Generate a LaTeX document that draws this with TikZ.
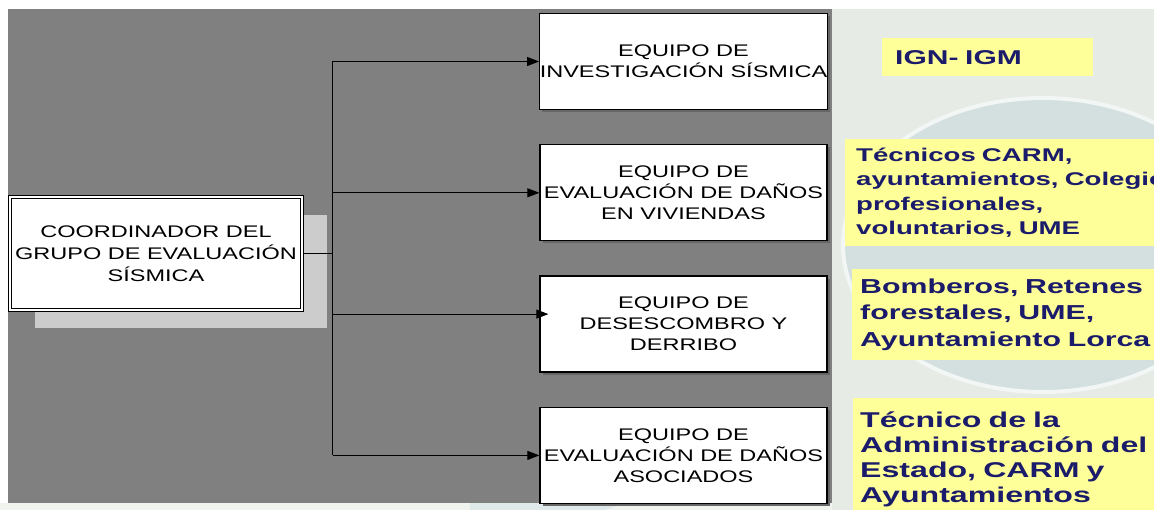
\documentclass[tikz,border=0pt]{standalone}
\usepackage{fontspec}
\setmainfont{Liberation Sans}
\newfontfamily\boxfont{Liberation Sans}[FakeStretch=1.4]
\newfontfamily\entefont{Liberation Sans}[FakeStretch=1.5]
\usepackage{tikz}
\usetikzlibrary{positioning,arrows.meta,shadows}
\definecolor{pannello}{HTML}{808080}
\definecolor{ombra}{HTML}{CCCCCC}
\definecolor{sfondo}{HTML}{E7EBE5}
\definecolor{cerchio}{HTML}{D3E0DF}
\definecolor{giallo}{HTML}{FFFF99}
\definecolor{blu}{HTML}{1B1B6B}

\begin{document}
\begin{tikzpicture}[x=1pt, y=-1pt,
  squadra/.style={draw, line width=1.3pt, fill=white, minimum width=287pt,
    minimum height=96pt, inner sep=0pt, align=center,
    font={\boxfont\fontsize{16.8pt}{21pt}\selectfont},
    drop shadow={shadow xshift=2.5pt, shadow yshift=-2.5pt, fill=black!60, opacity=1}},
  capo/.style={draw, double=white, double distance=1.8pt, line width=1.1pt,
    fill=white, minimum width=292pt, minimum height=113pt, inner sep=0pt,
    align=center, font={\boxfont\fontsize{16.8pt}{22pt}\selectfont},
    drop shadow={shadow xshift=24.5pt, shadow yshift=-18.5pt, fill=ombra, opacity=1}},
  ente/.style={fill=giallo, text=blu, anchor=north west, inner xsep=13pt,
    inner ysep=0pt, align=left},
  freccia/.style={-{Triangle[length=12pt, width=9pt]}, line width=0.9pt}]
  \useasboundingbox (0,0) rectangle (1154,510);
  \clip (0,0) rectangle (1154,510);

  % Sfondo
  \fill[white] (0,0) rectangle (1154,510);
  \fill[sfondo] (832,9) rectangle (1154,510);
  \fill[sfondo!60!white] (0,503) rectangle (832,510);
  \fill[cerchio!70!white] (470,503) -- (625,503) -- (605,510) -- (470,510) -- cycle;
  \fill[pannello] (8,9) rectangle (832,503);
  \fill[cerchio, draw=cerchio!30!white, line width=4pt] (1043,245) ellipse [x radius=200, y radius=147];

  % Coordinatore e squadre
  \node[capo] (coord) at (156,253.5) {COORDINADOR DEL\\GRUPO DE EVALUACIÓN\\SÍSMICA};
  \node[squadra] (b1) at (683.5,61.5) {EQUIPO DE\\INVESTIGACIÓN SÍSMICA};
  \node[squadra, below=34pt of b1] (b2) {EQUIPO DE\\EVALUACIÓN DE DAÑOS\\EN VIVIENDAS};
  \node[squadra, below=34pt of b2] (b3) {EQUIPO DE\\DESESCOMBRO Y\\DERRIBO};
  \node[squadra, below=34pt of b3] (b4) {EQUIPO DE\\EVALUACIÓN DE DAÑOS\\ASOCIADOS};

  \coordinate[right=30pt of coord.east] (j);
  \coordinate (t3) at ([xshift=9pt,yshift=10pt]b3.west);
  \draw[line width=0.9pt] (coord.east) -- (j);
  \draw[line width=0.9pt] (j |- b1.west) -- (j |- b4.west);
  \draw[freccia] (j |- b1.west) -- (b1.west);
  \draw[freccia] (j |- b2.west) -- (b2.west);
  \draw[freccia] (j |- t3) -- (t3);
  \draw[freccia] (j |- b4.west) -- (b4.west);

  % Enti
  \node[ente, minimum height=38pt, text width=185pt,
    font={\entefont\bfseries\fontsize{20pt}{23pt}\selectfont}] (ign) at (882,38) {IGN- IGM};
  \node[ente, inner xsep=11pt, minimum height=107pt, text width=400pt,
    font={\entefont\bfseries\fontsize{18.4pt}{24.5pt}\selectfont}] (carm) at (845,139)
    {Técnicos CARM,\\ayuntamientos, Colegios\\profesionales,\\voluntarios, UME};
  \node[ente, inner xsep=8pt, minimum height=91pt, text width=400pt,
    font={\entefont\bfseries\fontsize{20.2pt}{26.5pt}\selectfont}] (bomb) at (852,269)
    {Bomberos, Retenes\\forestales, UME,\\Ayuntamiento Lorca};
  \node[ente, inner xsep=7pt, minimum height=123pt, text width=400pt,
    font={\entefont\bfseries\fontsize{21.4pt}{25pt}\selectfont}] (adm) at (853,398)
    {Técnico de la\\Administración del\\Estado, CARM y\\Ayuntamientos};
\end{tikzpicture}
\end{document}
